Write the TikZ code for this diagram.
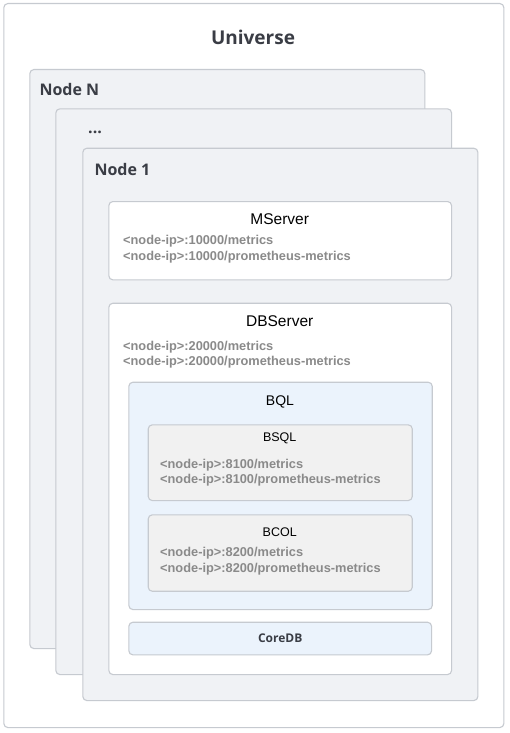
\documentclass[tikz,border=0pt]{standalone}
\usepackage{fontspec}
\setmainfont{Liberation Sans}
\newfontfamily\headfont{Open Sans}
\usepackage{xcolor}
\usetikzlibrary{positioning}

\definecolor{edgegray}{HTML}{C6CAD0}
\definecolor{nodefill}{HTML}{F0F2F5}
\definecolor{bqlfill}{HTML}{EBF3FC}
\definecolor{svcfill}{HTML}{F1F1F1}
\definecolor{urlgray}{HTML}{8A8A8A}
\definecolor{headdark}{HTML}{3A3D45}

\begin{document}
\begin{tikzpicture}[
    x=1pt, y=-1pt,
    box/.style={rectangle, draw=edgegray, line width=1.1pt, fill=#1, rounded corners=4pt, anchor=north west, inner sep=0pt},
    box/.default=white,
    head/.style={font=\headfont\bfseries\fontsize{16}{18}\selectfont, text=headdark},
    svc/.style={font=\fontsize{15.5}{18}\selectfont, text=black},
    subsvc/.style={font=\fontsize{12.5}{15}\selectfont, text=black},
    url/.style={font=\bfseries\fontsize{12.8}{15.6}\selectfont, text=urlgray, align=left, anchor=west, inner sep=0pt}
]
\useasboundingbox (0,0) rectangle (509,733);

% Outer frame
\node[box, minimum width=500pt, minimum height=724pt] (universe) at (3.3,3) {};
\node[head, font=\headfont\bfseries\fontsize{19}{22}\selectfont] (universet) at (253,37.5) {Universe};

% Stacked nodes
\node[box=nodefill, minimum width=395pt, minimum height=579pt] (noden) at (29.3,69) {};
\node[head, anchor=west, inner sep=0pt] (nodent) at (39.3,90) {Node N};
\node[box=nodefill, minimum width=395.7pt, minimum height=565.7pt] (nodedots) at (55.3,108.3) {};
\node[head, anchor=base west, inner sep=0pt] (nodedotst) at (88,133.5) {...};
\node[box=nodefill, minimum width=395pt, minimum height=552.3pt] (node1) at (82.3,147.7) {};
\node[head, anchor=west, inner sep=0pt] (node1t) at (94.3,169) {Node 1};

% MServer
\node[box, minimum width=342.7pt, minimum height=78.3pt] (mserver) at (108.3,201) {};
\node[svc] (mservert) at (279.7,219) {MServer};
\node[url] (mserveru) at (123,249) {<node-ip>:10000/metrics\\<node-ip>:10000/prometheus-metrics};

% DBServer
\node[box, minimum width=342.7pt, minimum height=371.3pt] (dbserver) at (108.3,302.7) {};
\node[svc] (dbservert) at (279.7,321) {DBServer};
\node[url] (dbserveru) at (123,354.5) {<node-ip>:20000/metrics\\<node-ip>:20000/prometheus-metrics};

% BQL with BSQL and BCOL
\node[box=bqlfill, minimum width=303.4pt, minimum height=227.3pt] (bql) at (128.3,381.7) {};
\node[svc, font=\fontsize{14}{16}\selectfont] (bqlt) at (280,402) {BQL};
\node[box=svcfill, minimum width=264pt, minimum height=75.7pt] (bsql) at (147.7,424.3) {};
\node[subsvc] (bsqlt) at (279.7,438) {BSQL};
\node[url] (bsqlu) at (160,472.5) {<node-ip>:8100/metrics\\<node-ip>:8100/prometheus-metrics};
\node[box=svcfill, minimum width=264pt, minimum height=76.4pt] (bcol) at (147.7,514.3) {};
\node[subsvc] (bcolt) at (279.7,532) {BCOL};
\node[url] (bcolu) at (160,561) {<node-ip>:8200/metrics\\<node-ip>:8200/prometheus-metrics};

% CoreDB
\node[box=bqlfill, minimum width=302.7pt, minimum height=32.6pt] (coredb) at (128.3,621.7) {};
\node[head, font=\headfont\bfseries\fontsize{12}{14}\selectfont] (coredbt) at (coredb.center) {CoreDB};
\end{tikzpicture}
\end{document}
